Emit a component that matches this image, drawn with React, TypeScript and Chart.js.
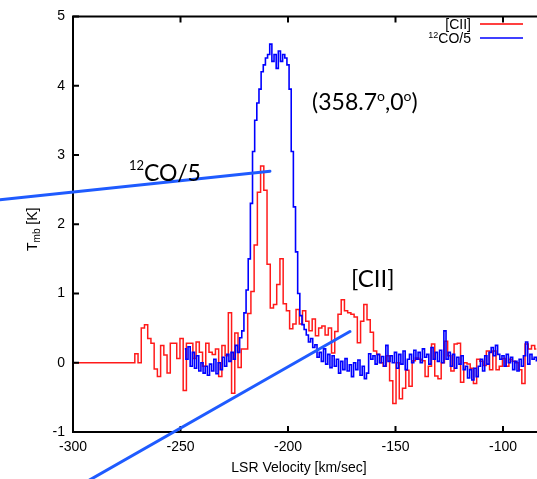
import React, { useEffect, useRef } from "react";
import { Chart, registerables } from "chart.js";
Chart.register(...registerables);

// Axes
const X_MIN = -300;
const X_MAX = -80;
const Y_MIN = -1;
const Y_MAX = 5;
const X_TICKS = [-300, -250, -200, -150, -100];
const Y_TICKS = [-1, 0, 1, 2, 3, 4, 5];
const X_TITLE = "LSR Velocity [km/sec]";

// [CII] spectrum (K), baseline from -300 then channels of 1.5 km/s from -272
const CII_BASE_START = -300;
const CII_START = -272;
const CII_STEP = 1.5;
const CII_VALUES = [
  0, 0.13, 0.0, 0.5, 0.55, 0.35, 0.28, -0.09, -0.2, 0.25,
  0.11, -0.15, 0.28, 0.28, 0.06, 0.35, -0.4, 0.28, 0.28, 0.06,
  0.3, 0.15, -0.05, 0.28, 0.15, 0.12, 0.2, -0.2, 0.25, 0.1,
  0.72, -0.44, 0.43, -0.07, 0.2, 0.2, 0.71, 1.03, 1.7, 2.46,
  2.84, 2.49, 1.42, 0.79, 0.84, 1.13, 1.5, 0.85, 0.75, 0.49,
  0.56, 0.77, 0.56, 0.75, 0.6, 0.46, 0.63, 0.39, 0.5, 0.53,
  0.4, 0.5, 0.14, 0.45, 0.7, 0.91, 0.75, 0.72, 0.7, 0.66,
  0.29, 0.6, 0.84, 0.62, 0.44, 0.17, 0.12, 0.0, -0.05, 0.1,
  -0.26, -0.59, 0.0, -0.52, -0.37, -0.11, -0.34, 0.03, 0.07, 0.05,
  0.03, -0.2, -0.05, 0.27, -0.19, -0.23, 0.0, 0.31, 0.1, -0.12,
  0.27, 0.28, -0.28, 0.0, -0.02, -0.08, -0.3, 0.05, 0.02, -0.04,
  0.17, -0.1, 0.17, -0.1, -0.05, 0.06, -0.05, 0.05, 0.02, 0.0,
  -0.1, -0.3, 0.27, 0.2, 0.25, 0.2,
];

// 12CO/5 spectrum (K), channels of 1 km/s from -248
const CO_START = -248;
const CO_STEP = 1;
const CO_VALUES = [
  0.2, 0.05, 0.23, -0.05, 0.15, -0.08, 0.1, -0.12, 0.0, -0.15,
  -0.05, -0.18, -0.02, -0.12, 0.05, -0.16, 0.0, -0.1, 0.08, -0.05,
  0.12, 0.02, 0.15, 0.05, 0.25, 0.15, 0.36, 0.46, 0.72, 1.05,
  1.5, 2.3, 3.05, 3.5, 3.75, 3.95, 4.2, 4.3, 4.4, 4.45,
  4.6, 4.35, 4.45, 4.25, 4.5, 4.35, 4.45, 4.4, 4.3, 3.95,
  3.05, 2.25, 1.6, 1.0, 0.68, 0.55, 0.48, 0.4, 0.3, 0.35,
  0.22, 0.26, 0.08, 0.15, 0.02, 0.2, -0.02, 0.12, -0.07, 0.1,
  -0.05, 0.05, -0.15, 0.02, -0.1, 0.06, -0.12, -0.03, -0.2, 0.0,
  -0.1, 0.04, -0.18, -0.05, -0.23, -0.15, 0.13, 0.05, 0.1, -0.02,
  0.12, 0.0, 0.09, -0.05, 0.25, 0.02, 0.1, 0.0, 0.15, -0.08,
  0.12, -0.02, 0.17, -0.1, 0.05, 0.12, 0.0, 0.18, 0.05, 0.15,
  0.0, 0.2, 0.08, 0.12, -0.02, 0.22, 0.05, 0.15, 0.02, 0.18,
  0.0, 0.46, 0.05, 0.15, -0.05, 0.12, -0.08, 0.08, -0.02, 0.1,
  -0.1, -0.05, -0.22, -0.1, -0.25, -0.08, -0.2, -0.05, 0.05, -0.12,
  0.1, -0.02, 0.15, 0.22, 0.1, 0.25, 0.12, 0.05, 0.1, -0.05,
  0.12, 0.0, 0.08, -0.1, 0.02, -0.12, 0.05, -0.05, 0.1, 0.3,
  -0.02, 0.12, 0.05, 0.08, 0.03,
];

// Pointer lines (data coordinates: [velocity, T])
const POINTER_CO = [[-334, 2.354], [-208.4, 2.765]];
const POINTER_CII = [[-293, -1.705], [-171.2, 0.45]];

// Text annotation anchors (data coordinates)
const LABEL_CO_AT = [-274, 2.62];
const LABEL_POS_AT = [-188.8, 3.65];
const LABEL_CII_AT = [-170.7, 1.09];

const AX_FONT = "'Liberation Sans', Arial, sans-serif";
const ANN_FONT = "Lato, 'Open Sans', sans-serif";

type Part = { text: string; size: number; rise?: number; family?: string };

function partsWidth(ctx: CanvasRenderingContext2D, parts: Part[]) {
  let w = 0;
  for (const p of parts) {
    ctx.font = `${p.size}px ${p.family || ANN_FONT}`;
    w += ctx.measureText(p.text).width;
  }
  return w;
}

function drawParts(ctx: CanvasRenderingContext2D, x: number, y: number, parts: Part[]) {
  let cx = x;
  for (const p of parts) {
    ctx.font = `${p.size}px ${p.family || ANN_FONT}`;
    ctx.fillText(p.text, cx, y - (p.rise || 0));
    cx += ctx.measureText(p.text).width;
  }
}

const overlayPlugin = {
  id: "overlay",
  afterDraw(chart: any) {
    const { ctx, chartArea: ca, scales } = chart;
    const xs = scales.x;
    const ys = scales.y;
    const px = (v: number) => xs.getPixelForValue(v);
    const py = (v: number) => ys.getPixelForValue(v);
    ctx.save();

    // frame
    ctx.strokeStyle = "#000";
    ctx.lineWidth = 2;
    ctx.beginPath();
    ctx.moveTo(ca.right + 5, ca.top);
    ctx.lineTo(ca.left, ca.top);
    ctx.lineTo(ca.left, ca.bottom);
    ctx.lineTo(ca.right + 5, ca.bottom);
    ctx.stroke();

    // inward ticks
    ctx.lineWidth = 2;
    ctx.beginPath();
    for (const v of X_TICKS) {
      const x = px(v);
      ctx.moveTo(x, ca.bottom);
      ctx.lineTo(x, ca.bottom - 6);
      ctx.moveTo(x, ca.top);
      ctx.lineTo(x, ca.top + 6);
    }
    for (const v of Y_TICKS) {
      const y = py(v);
      ctx.moveTo(ca.left, y);
      ctx.lineTo(ca.left + 6, y);
    }
    ctx.stroke();

    // axis titles
    ctx.fillStyle = "#000";
    ctx.textBaseline = "alphabetic";
    ctx.textAlign = "left";
    ctx.font = `14px ${AX_FONT}`;
    const tw = ctx.measureText(X_TITLE).width;
    ctx.fillText(X_TITLE, 299 - tw / 2, 472);

    ctx.save();
    ctx.translate(37, 251);
    ctx.rotate(-Math.PI / 2);
    drawParts(ctx, 0, 0, [
      { text: "T", size: 14, family: AX_FONT },
      { text: "mb", size: 10, rise: -3, family: AX_FONT },
      { text: " [K]", size: 14, family: AX_FONT },
    ]);
    ctx.restore();

    // legend
    const legendRight = 471;
    const items = [
      { parts: [{ text: "[CII]", size: 14, family: AX_FONT }] as Part[], color: "#ff0000", y: 24 },
      {
        parts: [
          { text: "12", size: 9, rise: 5, family: AX_FONT },
          { text: "CO/5", size: 14, family: AX_FONT },
        ] as Part[],
        color: "#0000ff",
        y: 38,
      },
    ];
    for (const it of items) {
      const w = partsWidth(ctx, it.parts);
      drawParts(ctx, legendRight - w, it.y + 5, it.parts);
      ctx.strokeStyle = it.color;
      ctx.lineWidth = 1.5;
      ctx.beginPath();
      ctx.moveTo(480, it.y);
      ctx.lineTo(523, it.y);
      ctx.stroke();
    }

    // pointer lines
    ctx.strokeStyle = "#1f5bff";
    ctx.lineWidth = 3;
    ctx.lineCap = "round";
    for (const seg of [POINTER_CO, POINTER_CII]) {
      ctx.beginPath();
      ctx.moveTo(px(seg[0][0]), py(seg[0][1]));
      ctx.lineTo(px(seg[1][0]), py(seg[1][1]));
      ctx.stroke();
    }

    // annotation texts
    ctx.fillStyle = "#000";
    drawParts(ctx, px(LABEL_CO_AT[0]), py(LABEL_CO_AT[1]), [
      { text: "12", size: 13, rise: 11 },
      { text: "CO/5", size: 23 },
    ]);
    drawParts(ctx, px(LABEL_POS_AT[0]), py(LABEL_POS_AT[1]), [
      { text: "(358.7", size: 23 },
      { text: "o", size: 14, rise: 9 },
      { text: ",0", size: 23 },
      { text: "o", size: 14, rise: 9 },
      { text: ")", size: 23 },
    ]);
    drawParts(ctx, px(LABEL_CII_AT[0]), py(LABEL_CII_AT[1]), [{ text: "[CII]", size: 24 }]);

    ctx.restore();
  },
};

export default function App() {
  const ref = useRef<HTMLCanvasElement | null>(null);

  useEffect(() => {
    if (!ref.current) return;
    const ciiPoints = [
      { x: CII_BASE_START, y: 0 },
      ...CII_VALUES.map((y, i) => ({ x: CII_START + i * CII_STEP, y })),
    ];
    const coPoints = CO_VALUES.map((y, i) => ({ x: CO_START + i * CO_STEP, y }));

    const tickFont = { family: AX_FONT, size: 14 };
    const chart = new Chart(ref.current, {
      type: "line",
      data: {
        datasets: [
          {
            label: "12CO/5",
            data: coPoints,
            borderColor: "#0000ff",
            borderWidth: 1.6,
            pointRadius: 0,
            stepped: "middle",
            fill: false,
          },
          {
            label: "[CII]",
            data: ciiPoints,
            borderColor: "#ff1a1a",
            borderWidth: 1.5,
            pointRadius: 0,
            stepped: "middle",
            fill: false,
          },
        ],
      },
      options: {
        responsive: false,
        animation: false,
        devicePixelRatio: 1,
        layout: { padding: { top: 13, right: 14, left: 0, bottom: 0 } },
        plugins: { legend: { display: false }, tooltip: { enabled: false } },
        scales: {
          x: {
            type: "linear",
            min: X_MIN,
            max: X_MAX,
            grid: { display: false, drawTicks: false },
            border: { display: false },
            ticks: { font: tickFont, color: "#000", padding: 7, maxRotation: 0, autoSkip: false },
            afterBuildTicks: (s: any) => {
              s.ticks = X_TICKS.map((v) => ({ value: v }));
            },
            afterFit: (s: any) => {
              s.height = 47;
            },
          },
          y: {
            type: "linear",
            min: Y_MIN,
            max: Y_MAX,
            grid: { display: false, drawTicks: false },
            border: { display: false },
            ticks: { font: tickFont, color: "#000", padding: 8 },
            afterBuildTicks: (s: any) => {
              s.ticks = Y_TICKS.map((v) => ({ value: v }));
            },
            afterFit: (s: any) => {
              s.width = 73;
            },
          },
        },
      },
      plugins: [overlayPlugin],
    } as any);
    return () => chart.destroy();
  }, []);

  return (
    <div
      style={{
        position: "absolute",
        left: 0,
        top: 0,
        width: 537,
        height: 479,
        overflow: "hidden",
        background: "#fff",
      }}
    >
      <canvas ref={ref} width={560} height={479} style={{ display: "block", width: 560, height: 479 }} />
    </div>
  );
}
